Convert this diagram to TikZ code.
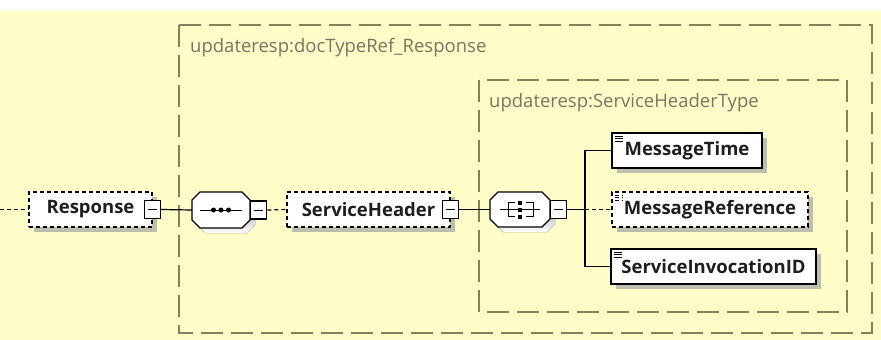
\documentclass[tikz,border=0pt]{standalone}
\usepackage{fontspec}
\setmainfont{Open Sans}
\usetikzlibrary{shadows}
\definecolor{bgyellow}{RGB}{255,253,200}
\definecolor{grpline}{RGB}{130,130,90}
\definecolor{grptext}{RGB}{118,118,98}
\definecolor{shade}{RGB}{190,190,175}
\definecolor{elemtext}{RGB}{30,30,30}
% octagon outline: centre x, centre y, width, height
\newcommand{\octo}[4]{({#1-#3/2+8},{#2-#4/2}) -- ({#1+#3/2-8},{#2-#4/2}) -- ({#1+#3/2},{#2-#4/2+8})
    -- ({#1+#3/2},{#2+#4/2-8}) -- ({#1+#3/2-8},{#2+#4/2}) -- ({#1-#3/2+8},{#2+#4/2})
    -- ({#1-#3/2},{#2+#4/2-8}) -- ({#1-#3/2},{#2-#4/2+8}) -- cycle}
\begin{document}
\begin{tikzpicture}[x=1pt, y=-1pt,
    elem/.style={draw=black, line width=1.2pt, fill=white, minimum height=35pt, inner sep=0pt,
        text=elemtext, font=\fontsize{18.5}{20}\selectfont\bfseries,
        general shadow={fill=shade, shadow xshift=5pt, shadow yshift=-5pt}},
    optelem/.style={elem, dash pattern=on 4pt off 3pt},
    leaf/.style={path picture={\foreach \k in {0,1,2}
        \draw[line width=0.8pt] ([xshift=2.5pt,yshift={-3pt-2.5pt*\k}]path picture bounding box.north west) -- ++(8pt,0pt);}},
    compositor/.style={minimum height=35pt, inner sep=0pt},
    minusbox/.style={draw=black, line width=1.2pt, fill=white, minimum width=16pt, minimum height=18pt,
        inner sep=0pt, path picture={\draw[line width=1pt]
        ([xshift=-4.5pt]path picture bounding box.center) -- ([xshift=4.5pt]path picture bounding box.center);}},
    conn/.style={line width=1.2pt},
    optconn/.style={conn, dash pattern=on 4pt off 3pt},
    group/.style={draw=grpline, line width=1.2pt, dash pattern=on 22pt off 8pt},
    grouplabel/.style={text=grptext, font=\fontsize{18.5}{20}\selectfont, anchor=west, inner sep=0pt}]

    % background
    \fill[white] (0,0) rectangle (881,11);
    \fill[bgyellow] (0,11) rectangle (881,340);
    \useasboundingbox (0,0) rectangle (881,340);

    % type groups
    \draw[group] (179,25) rectangle (872,333);
    \node[grouplabel] (doclbl) at (190,48) {updateresp:docTypeRef\_Response};
    \draw[group] (479,80) rectangle (847,312);
    \node[grouplabel] (hdrlbl) at (489,103) {updateresp:ServiceHeaderType};

    % root element
    \coordinate (in) at (0,209.5);
    \node[optelem, minimum width=123pt] (resp) at (90.5,209.5) {Response};
    \node[minusbox] (rmin) at (resp.east) {};

    % sequence
    \fill[shade, shift={(5,5)}] \octo{221}{210}{58}{36};
    \filldraw[fill=white, line width=1.2pt] \octo{221}{210}{58}{36};
    \node[compositor, minimum width=58pt] (seq) at (221,210) {};
    \node[minusbox, anchor=west] (smin) at (seq.east) {};
    \draw[line width=1pt] ([xshift=-21pt]seq.center) -- ([xshift=21pt]seq.center);
    \foreach \d in {-7.5,0,7.5}
        \fill ([xshift=\d pt]seq.center) circle (2.5pt);

    % header element
    \node[optelem, minimum width=163pt] (hdr) at (368.5,209.5) {ServiceHeader};
    \node[minusbox] (hmin) at (hdr.east) {};

    % all
    \fill[shade, shift={(5,5)}] \octo{520}{209.5}{60}{35};
    \filldraw[fill=white, line width=1.2pt] \octo{520}{209.5}{60}{35};
    \node[compositor, minimum width=60pt] (all) at (520,209.5) {};
    \node[minusbox, anchor=west] (amin) at (all.east) {};
    \draw[line width=1pt] ([xshift=-20pt]all.center) -- ([xshift=20pt]all.center);
    \draw[line width=1pt] ([xshift=-5pt,yshift=7pt]all.center) -| ([xshift=-12pt,yshift=-7pt]all.center) -- ([xshift=-5pt,yshift=-7pt]all.center);
    \draw[line width=1pt] ([xshift=6pt,yshift=7pt]all.center) -| ([xshift=13pt,yshift=-7pt]all.center) -- ([xshift=6pt,yshift=-7pt]all.center);
    \foreach \d in {-7,0,7}
        \fill ([yshift=\d pt]all.center) ++(-2pt,-2pt) rectangle ++(4pt,4pt);

    % children
    \coordinate (br) at (585,209.5);
    \node[elem, leaf, minimum width=150pt] (mt) at (687,150.5) {MessageTime};
    \node[optelem, leaf, minimum width=196pt] (mr) at (710,209.5) {MessageReference};
    \node[elem, leaf, minimum width=205pt] (sid) at (713.5,266.5) {ServiceInvocationID};

    % connectors
    \draw[optconn] (in) -- (resp.west);
    \draw[conn] (rmin.east) -- (seq.west);
    \draw[optconn] (smin.east) -- (hdr.west);
    \draw[conn] (hmin.east) -- (all.west);
    \draw[conn] (amin.east) -- (br);
    \draw[conn] (mt.west) -| (br) |- (sid.west);
    \draw[optconn] (br) -- (mr.west);
\end{tikzpicture}
\end{document}
